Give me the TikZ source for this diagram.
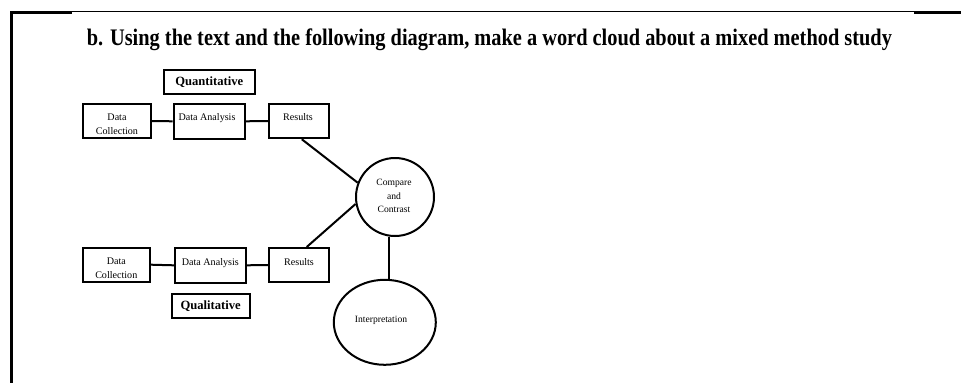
\documentclass[tikz,border=0pt]{standalone}
\usepackage{fontspec}
\setmainfont{Liberation Serif}
\usetikzlibrary{shapes.geometric}
\begin{document}
\begin{tikzpicture}[x=1pt,y=-1pt,
  stepbox/.style={draw,line width=2pt,inner sep=0pt},
  labelbox/.style={draw,line width=2pt,inner sep=0pt,font=\fontsize{12.6}{14}\selectfont\bfseries},
  small/.style={inner sep=0pt,font=\fontsize{10.1}{13.7}\selectfont,align=center},
  tiny/.style={inner sep=0pt,font=\fontsize{9.6}{13.7}\selectfont,align=center},
  conn/.style={line width=2pt}]
\useasboundingbox (0,0) rectangle (961,383);
% frame
\draw[line width=1pt] (72,11.7) -- (914,11.7);
\draw[line width=3pt] (10,12.5) -- (72,12.5);
\draw[line width=2.6pt] (914,12.3) -- (961,12.3);
\draw[line width=2.6pt] (11.3,11) -- (11.3,383);
% title
\node[inner sep=0pt,anchor=base west] (title) at (86.7,45)
  {\resizebox{805pt}{16.7pt}{\bfseries b. Using the text and the following diagram, make a word cloud about a mixed method study}};
% top row
\node[labelbox,minimum width=91pt,minimum height=24pt] (quant) at (209.2,82) {Quantitative};
\node[stepbox,minimum width=68pt,minimum height=34.5pt] (dc1) at (117,121) {};
\node[stepbox,minimum width=71pt,minimum height=35pt] (da1) at (209.2,121.3) {};
\node[stepbox,minimum width=60pt,minimum height=34.5pt] (r1) at (298.8,121) {};
\node[small,anchor=base] (dc1t) at (117,120) {Data};
\node[small,anchor=base] (dc1u) at (117,134.3) {Collection};
\node[small,anchor=base] (da1t) at (207,120) {Data Analysis};
\node[small,anchor=base] (r1t) at (298,120) {Results};
% bottom row
\node[stepbox,minimum width=67pt,minimum height=34pt] (dc2) at (116.3,264.7) {};
\node[stepbox,minimum width=71pt,minimum height=35pt] (da2) at (210.3,265.3) {};
\node[stepbox,minimum width=60pt,minimum height=34pt] (r2) at (299,265) {};
\node[labelbox,minimum width=78pt,minimum height=24pt] (qual) at (210.7,306) {Qualitative};
\node[small,anchor=base] (dc2t) at (116.3,264) {Data};
\node[small,anchor=base] (dc2u) at (116.3,278.2) {Collection};
\node[small,anchor=base] (da2t) at (210.3,265) {Data Analysis};
\node[small,anchor=base] (r2t) at (299,265) {Results};
% circle and ellipse
\node[draw,circle,line width=2pt,minimum size=78pt,inner sep=0pt] (cc) at (395,197) {};
\node[tiny] (cct) at (394,196) {Compare\\and\\Contrast};
\node[draw,ellipse,line width=2pt,minimum width=102pt,minimum height=85pt,inner sep=0pt] (interp) at (384.8,322.3) {};
\node[tiny,anchor=base] (interpt) at (381,322.3) {Interpretation};
% connectors
\draw[conn] (dc1.east) -- (da1.west);
\draw[conn] (da1.east) -- (r1.west);
\draw[conn] (dc2.east) -- (da2.west);
\draw[conn] (da2.east) -- (r2.west);
\draw[conn] ([xshift=3pt]r1.south) -- (cc.159);
\draw[conn] ([xshift=7.7pt]r2.north) -- (cc.190);
\draw[conn] (cc.261) -- (cc.261 |- interp.north);
\end{tikzpicture}
\end{document}
